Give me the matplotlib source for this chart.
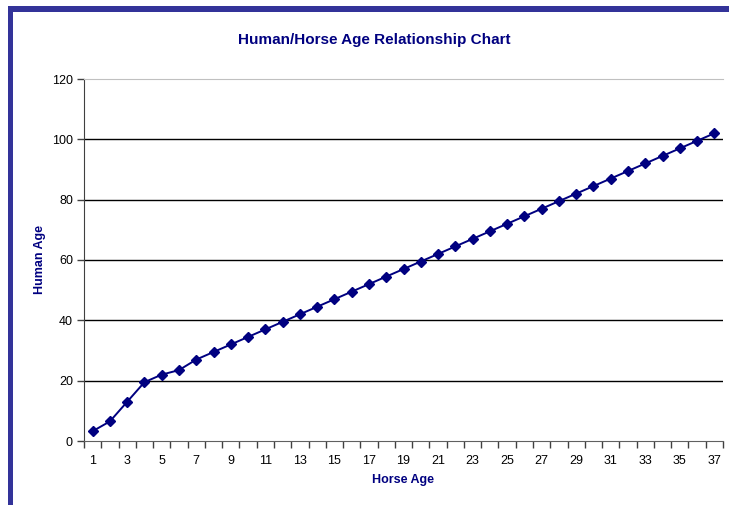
import matplotlib
matplotlib.use("Agg")
import matplotlib.pyplot as plt
from matplotlib.patches import Rectangle

# === DATA ===
horse_age = list(range(1, 38))
human_age = [3.25, 6.5, 13, 19.5, 22, 23.5, 27, 29.5, 32, 34.5,
             37, 39.5, 42, 44.5, 47, 49.5, 52, 54.5, 57, 59.5,
             62, 64.5, 67, 69.5, 72, 74.5, 77, 79.5, 82, 84.5,
             87, 89.5, 92, 94.5, 97, 99.5, 102]
y_ticks = [0, 20, 40, 60, 80, 100, 120]
x_label_ticks = horse_age[::2]

navy = "#000080"
frame_blue = "#333399"

plt.rcParams['font.family'] = ['Liberation Sans', 'DejaVu Sans']

W, H = 729, 505
fig = plt.figure(figsize=(W / 100, H / 100), dpi=100)
fig.patch.set_facecolor("white")

# blue frame on top and left
fig.add_artist(Rectangle((8 / W, 0), 5 / W, 1 - 6 / H, transform=fig.transFigure,
                         facecolor=frame_blue, edgecolor="none"))
fig.add_artist(Rectangle((8 / W, 1 - 12 / H), 1 - 8 / W, 6 / H, transform=fig.transFigure,
                         facecolor=frame_blue, edgecolor="none"))

ax = fig.add_axes([84 / W, 1 - 441 / H, (723 - 84) / W, (441 - 79) / H])

ax.plot(horse_age, human_age, color=navy, lw=1.4, marker="D", markersize=5.5,
        markerfacecolor=navy, markeredgecolor=navy, zorder=3)

# y axis
ax.set_ylim(0, 120)
ax.set_yticks(y_ticks)
for v in y_ticks[1:-1]:
    ax.axhline(v, color="black", lw=1, zorder=1)
ax.tick_params(axis="y", direction="out", length=5, width=1, colors="#404040",
               labelcolor="black", labelsize=9, pad=3)

# x axis: ticks between categories, labels on every other category
ax.set_xlim(0.5, len(horse_age) + 0.5)
ax.set_xticks([i + 0.5 for i in range(0, len(horse_age) + 1)])
ax.set_xticklabels([])
ax.set_xticks(x_label_ticks, minor=True)
ax.set_xticklabels([str(v) for v in x_label_ticks], minor=True)
ax.tick_params(axis="x", which="major", direction="out", length=5, width=1, colors="#404040")
ax.tick_params(axis="x", which="minor", length=0, labelsize=9, labelcolor="black", pad=10)

ax.spines["left"].set_color("#404040")
ax.spines["bottom"].set_color("#606060")
ax.spines["top"].set_color("#c0c0c0")
ax.spines["right"].set_visible(False)

ax.set_xlabel("Horse Age", color=navy, fontsize=9, fontweight="bold", labelpad=5)
ax.set_ylabel("Human Age", color=navy, fontsize=9, fontweight="bold", labelpad=4)
fig.text(374 / W, 1 - 40 / H, "Human/Horse Age Relationship Chart", color=navy,
         fontsize=11, fontweight="bold", ha="center", va="center")

fig.savefig("out.png", dpi=100)
